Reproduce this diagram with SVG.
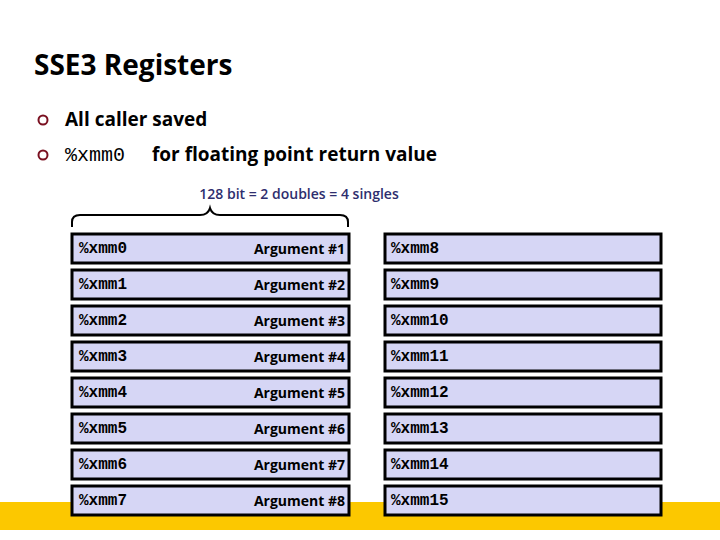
<svg xmlns="http://www.w3.org/2000/svg" width="720" height="540" viewBox="0 0 720 540">
<style>
.b{fill:#d6d6f5;stroke:#000;stroke-width:3}
.m{font-family:"Liberation Mono",monospace;font-size:16px;font-weight:bold;fill:#000}
.a{font-family:"Open Sans","Liberation Sans",sans-serif;font-size:14px;font-weight:bold;fill:#000;text-anchor:end}
.t{font-family:"Open Sans","Liberation Sans",sans-serif;font-weight:bold;fill:#000}
</style>
<rect x="0" y="0" width="720" height="540" fill="#fff"/>
<rect x="0" y="502" width="720" height="28" fill="#fcc800"/>
<text class="t" x="34" y="75" font-size="28">SSE3 Registers</text>
<circle cx="43" cy="120" r="4.5" fill="none" stroke="#7a1020" stroke-width="2"/>
<circle cx="43" cy="155" r="4.5" fill="none" stroke="#7a1020" stroke-width="2"/>
<text class="t" x="65" y="126" font-size="19">All caller saved</text>
<text x="65" y="161" font-family="Liberation Mono,monospace" font-size="20">%xmm0</text>
<text class="t" x="152" y="161" font-size="19">for floating point return value</text>
<text x="299" y="199" font-family="Open Sans,Liberation Sans,sans-serif" font-size="14" font-weight="600" fill="#2e2e6e" text-anchor="middle">128 bit = 2 doubles = 4 singles</text>
<g id="connectors"><path d="M72,227 V222 Q72,215 80,215 H200 Q208,215 210,208 Q212,215 220,215 H340 Q348,215 348,222 V227" fill="none" stroke="#000" stroke-width="2"/></g>
<g id="left">
<g id="xmm0"><rect class="b" x="72" y="234" width="277" height="29"/><text class="m" x="79" y="253">%xmm0</text><text class="a" x="345" y="254">Argument #1</text></g>
<g id="xmm1"><rect class="b" x="72" y="270" width="277" height="29"/><text class="m" x="79" y="289">%xmm1</text><text class="a" x="345" y="290">Argument #2</text></g>
<g id="xmm2"><rect class="b" x="72" y="306" width="277" height="29"/><text class="m" x="79" y="325">%xmm2</text><text class="a" x="345" y="326">Argument #3</text></g>
<g id="xmm3"><rect class="b" x="72" y="342" width="277" height="29"/><text class="m" x="79" y="361">%xmm3</text><text class="a" x="345" y="362">Argument #4</text></g>
<g id="xmm4"><rect class="b" x="72" y="378" width="277" height="29"/><text class="m" x="79" y="397">%xmm4</text><text class="a" x="345" y="398">Argument #5</text></g>
<g id="xmm5"><rect class="b" x="72" y="414" width="277" height="29"/><text class="m" x="79" y="433">%xmm5</text><text class="a" x="345" y="434">Argument #6</text></g>
<g id="xmm6"><rect class="b" x="72" y="450" width="277" height="29"/><text class="m" x="79" y="469">%xmm6</text><text class="a" x="345" y="470">Argument #7</text></g>
<g id="xmm7"><rect class="b" x="72" y="486" width="277" height="29"/><text class="m" x="79" y="505">%xmm7</text><text class="a" x="345" y="506">Argument #8</text></g>
</g>
<g id="right">
<g id="xmm8"><rect class="b" x="385" y="234" width="276" height="29"/><text class="m" x="391" y="253">%xmm8</text></g>
<g id="xmm9"><rect class="b" x="385" y="270" width="276" height="29"/><text class="m" x="391" y="289">%xmm9</text></g>
<g id="xmm10"><rect class="b" x="385" y="306" width="276" height="29"/><text class="m" x="391" y="325">%xmm10</text></g>
<g id="xmm11"><rect class="b" x="385" y="342" width="276" height="29"/><text class="m" x="391" y="361">%xmm11</text></g>
<g id="xmm12"><rect class="b" x="385" y="378" width="276" height="29"/><text class="m" x="391" y="397">%xmm12</text></g>
<g id="xmm13"><rect class="b" x="385" y="414" width="276" height="29"/><text class="m" x="391" y="433">%xmm13</text></g>
<g id="xmm14"><rect class="b" x="385" y="450" width="276" height="29"/><text class="m" x="391" y="469">%xmm14</text></g>
<g id="xmm15"><rect class="b" x="385" y="486" width="276" height="29"/><text class="m" x="391" y="505">%xmm15</text></g>
</g>
</svg>
